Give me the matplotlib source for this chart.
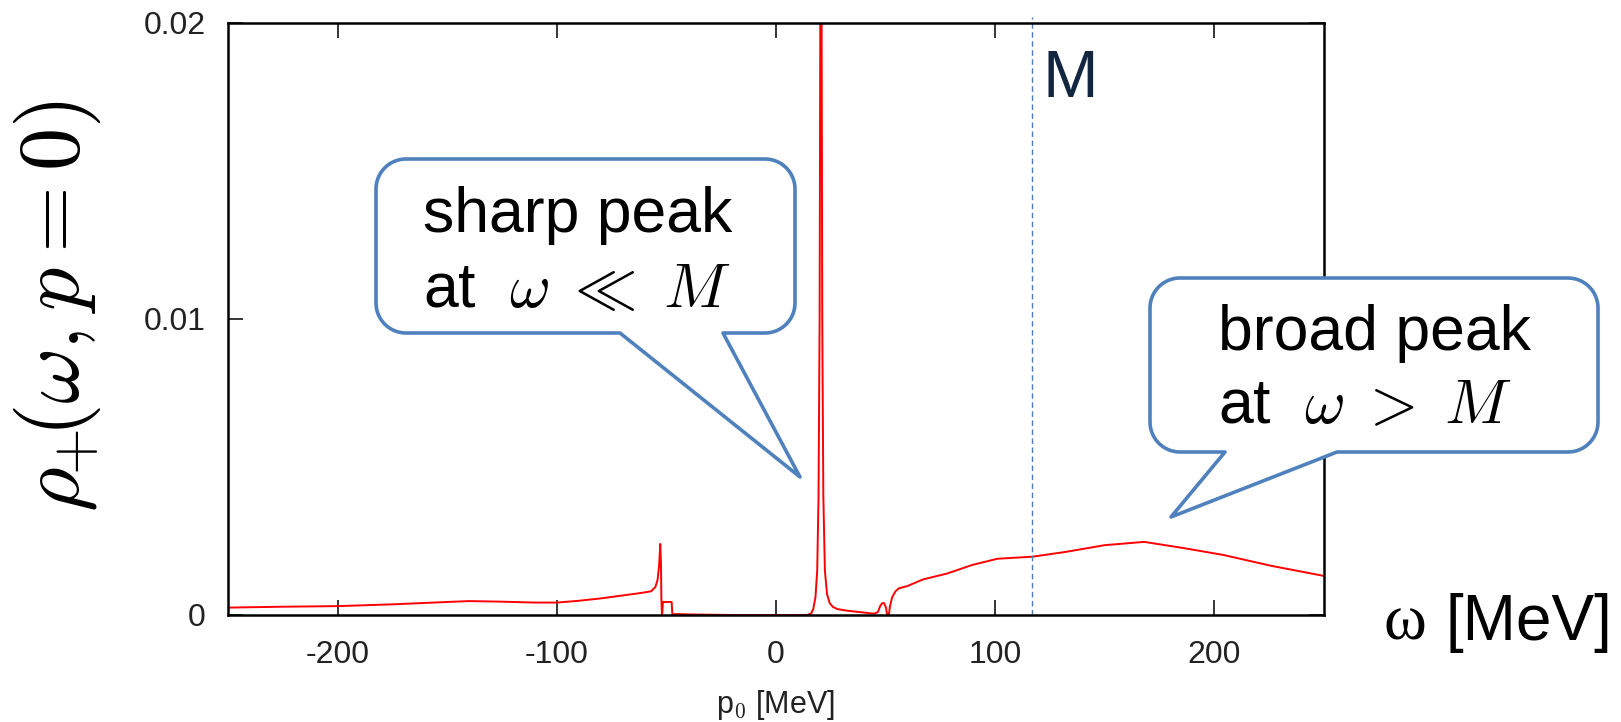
import matplotlib
matplotlib.use("Agg")
import matplotlib.pyplot as plt
import numpy as np
from matplotlib.patches import Polygon

plt.rcParams["font.family"] = ["Liberation Sans", "DejaVu Sans"]
plt.rcParams["mathtext.fontset"] = "cm"
plt.rcParams["axes.unicode_minus"] = False

W, H = 1621, 722

# spectral function rho_+(omega, p=0)
omega = [
    -250, -225, -200, -175, -150, -140, -125, -110, -100, -90, -80, -70, -62, -57,
    -55, -54, -53.3, -52.8, -52.5, -52.3, -52.0, -51.6, -51.3, -48.0, -47.6, -47.2,
    -46.5, -44, -40, -30, -20, -10, 0, 10, 14,
    16, 17, 18, 18.8, 19.4, 19.9, 20.2, 20.35, 20.5, 20.65, 20.8, 21.1, 21.6, 22.3,
    23.3, 24.5, 26, 28, 32, 38, 44, 45,
    46.5, 47.5, 48.5, 49.3, 50.2, 50.9, 51.3, 52, 53, 54.5, 56, 60, 67, 78, 89.5,
    101, 117, 132, 150, 168, 186, 204, 226, 250,
]
rho = [
    0.00025, 0.00028, 0.00030, 0.00036, 0.00044, 0.00047, 0.00045, 0.00042, 0.00042,
    0.00048, 0.00056, 0.00066, 0.00074, 0.00080, 0.00095, 0.0012, 0.0017, 0.0024,
    0.0018, 0.0006, -0.0001, 0.00044, 0.00044, 0.00044, 0.00044, -0.0001,
    0.00003, 0.00003, 0.00002, 0.00001, 0.0, 0.0, 0.0, 0.0, 0.0,
    0.00005, 0.0002, 0.0006, 0.0015, 0.004, 0.010, 0.020, 0.030, 0.040, 0.030,
    0.020, 0.010, 0.004, 0.0015, 0.0007, 0.0004, 0.00027, 0.0002, 0.00015, 0.0001,
    0.00005, 0.00005,
    0.0001, 0.0003, 0.0004, 0.0004, 0.00025, -0.0001, -0.0001, 0.0003, 0.0006,
    0.0008, 0.0009, 0.00098, 0.0012, 0.0014, 0.00169,
    0.0019, 0.00197, 0.00213, 0.00236, 0.00247, 0.00226, 0.00203, 0.00166, 0.00132,
]

M_MEV = 117
x_ticks = [-200, -100, 0, 100, 200]
y_ticks = [0, 0.01, 0.02]
y_tick_labels = ["0", "0.01", "0.02"]


def px(x, y):
    return x / W, 1 - y / H


def bubble(fig, left, top, right, bottom, r, tail_a, tail_b, tip):
    pts = [(tail_a, bottom), tip, (tail_b, bottom)]
    corners = [
        ((right - r, bottom - r), 90, 0),
        ((right - r, top + r), 0, -90),
        ((left + r, top + r), -90, -180),
        ((left + r, bottom - r), 180, 90),
    ]
    for (cx, cy), a0, a1 in corners:
        for t in np.radians(np.linspace(a0, a1, 16)):
            pts.append((cx + r * np.cos(t), cy + r * np.sin(t)))
    poly = Polygon([px(x, y) for x, y in pts], closed=True, transform=fig.transFigure,
                   facecolor="white", edgecolor="#4F81BD", linewidth=2.6,
                   joinstyle="round", zorder=10)
    fig.add_artist(poly)


fig = plt.figure(figsize=(W / 100, H / 100), dpi=100)
ax = fig.add_axes([228 / W, 1 - 615 / H, (1324 - 228) / W, (615 - 23) / H])

ax.plot(omega, rho, color="#FF0000", linewidth=1.4)
ax.axvline(M_MEV, ymin=0, ymax=1.01, color="#4A7EBB", linewidth=1.0,
           linestyle=(0, (4, 2.5)), clip_on=False)

ax.set_xlim(-250, 250)
ax.set_ylim(0, 0.02)
ax.set_xticks(x_ticks)
ax.set_yticks(y_ticks)
ax.set_yticklabels(y_tick_labels)
ax.tick_params(direction="in", length=11, width=1.1, top=True, right=True,
               labelsize=23, labelcolor="#222222")
ax.tick_params(axis="x", pad=18)
ax.tick_params(axis="y", pad=16)
for s in ax.spines.values():
    s.set_linewidth(1.8)
ax.set_xlabel(r"p$_\mathsf{0}$ [MeV]", fontsize=22, color="#222222", labelpad=13)

# big axis titles
fig.text(*px(57, 306), r"$\rho_{\!\!+}\!\!(\omega, p = 0)$", fontsize=62, rotation=90,
         ha="center", va="center")
fig.text(*px(1383, 640), "ω", fontsize=47, family=["Liberation Serif", "DejaVu Serif"],
         ha="left", va="baseline")
fig.text(*px(1445, 640), "[MeV]", fontsize=46, ha="left", va="baseline")
fig.text(*px(1043, 97), "M", fontsize=48, color="#12263F", ha="left", va="baseline")

# callouts
bubble(fig, 376, 159, 795, 333, 30, 620, 723, (800, 477))
fig.text(*px(423, 232), "sharp peak", fontsize=45, ha="left", va="baseline", zorder=11)
fig.text(*px(423, 307), r"at  $\omega \;\ll\; M$", fontsize=45, ha="left", va="baseline", zorder=11)

bubble(fig, 1150, 278, 1598, 452, 30, 1225, 1337, (1171, 517))
fig.text(*px(1218, 350), "broad peak", fontsize=45, ha="left", va="baseline", zorder=11)
fig.text(*px(1218, 423), r"at  $\omega \;>\; M$", fontsize=45, ha="left", va="baseline", zorder=11)

fig.savefig("out.png", dpi=100)
